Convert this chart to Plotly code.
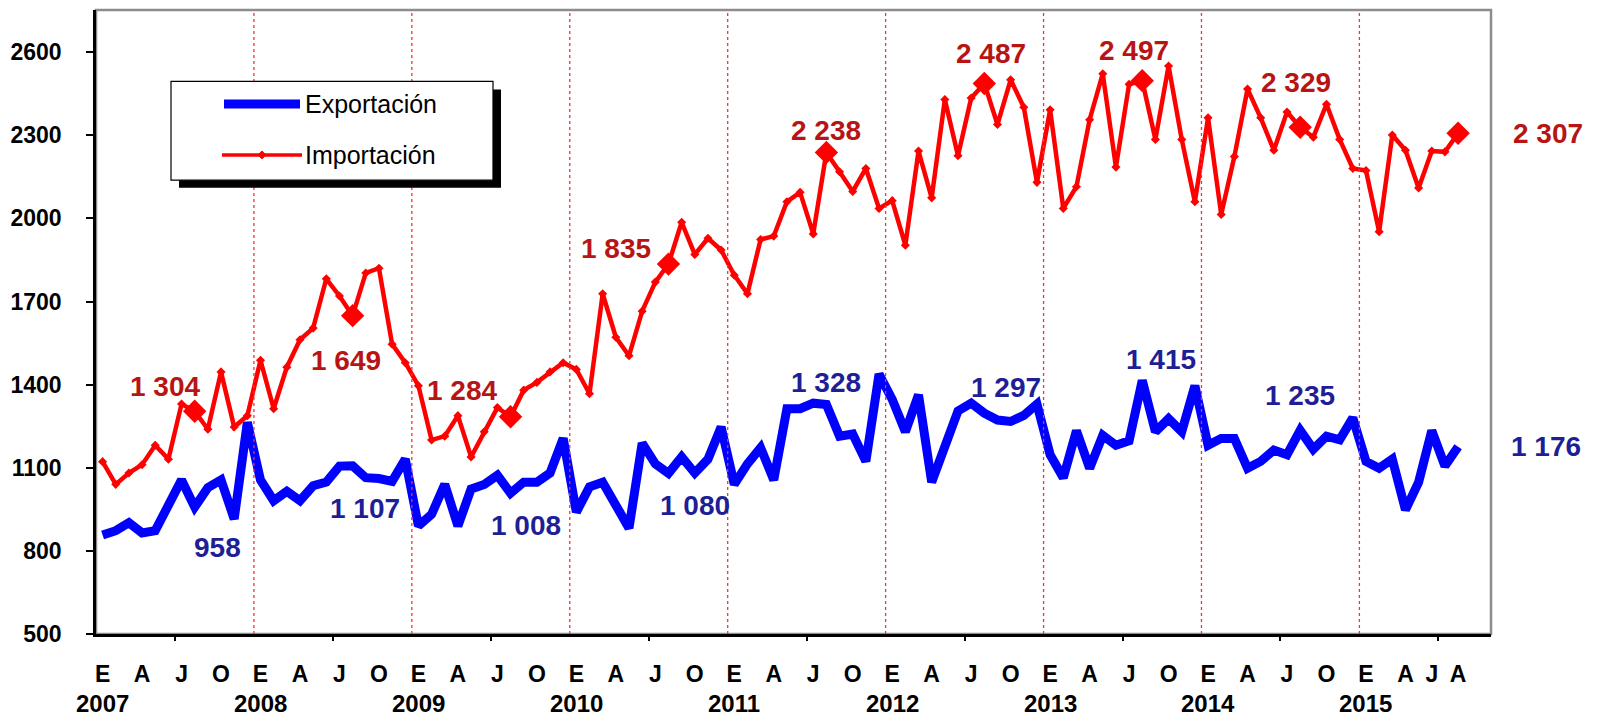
import plotly.graph_objects as go

# ---------------- data ----------------
years = [2007, 2008, 2009, 2010, 2011, 2012, 2013, 2014, 2015]
month_letters = ["E", "A", "J", "O"]
month_offsets = [0, 3, 6, 9]
last_year_letters = ["E", "A", "J", "A"]
last_year_offsets = [0, 3, 5, 7]

exportacion = [
    857, 873, 902, 865, 873, 968, 1056, 958, 1028, 1056, 915, 1264,
    1056, 981, 1015, 981, 1035, 1048, 1106, 1107, 1064, 1061, 1051, 1131,
    890, 932, 1040, 890, 1023, 1040, 1073, 1008, 1048, 1048, 1081, 1206,
    940, 1031, 1048, 965, 882, 1189, 1114, 1080, 1139, 1081, 1131, 1247,
    1040, 1114, 1172, 1056, 1313, 1313, 1333, 1328, 1214, 1222, 1123, 1438,
    1347, 1230, 1363, 1048, 1181, 1305, 1333, 1297, 1272, 1267, 1289, 1330,
    1147, 1064, 1234, 1098, 1217, 1181, 1197, 1415, 1230, 1277, 1230, 1396,
    1181, 1206, 1206, 1098, 1123, 1164, 1147, 1235, 1167, 1214, 1201, 1280,
    1123, 1098, 1131, 948, 1048, 1234, 1106, 1176,
]
importacion = [
    1122, 1040, 1081, 1111, 1181, 1131, 1330, 1304, 1239, 1446, 1247, 1288,
    1488, 1313, 1463, 1562, 1604, 1782, 1720, 1649, 1803, 1820, 1546, 1479,
    1396, 1200, 1214, 1288, 1139, 1230, 1317, 1284, 1380, 1408, 1446, 1479,
    1455, 1367, 1728, 1571, 1504, 1665, 1770, 1835, 1986, 1870, 1928, 1886,
    1795, 1728, 1924, 1936, 2060, 2094, 1944, 2238, 2168, 2097, 2180, 2036,
    2064, 1903, 2243, 2074, 2429, 2226, 2434, 2487, 2339, 2500, 2401, 2130,
    2392, 2036, 2114, 2356, 2522, 2185, 2484, 2497, 2285, 2550, 2285, 2060,
    2363, 2014, 2223, 2467, 2363, 2246, 2384, 2329, 2293, 2412, 2285, 2180,
    2173, 1952, 2301, 2246, 2110, 2243, 2240, 2307,
]
highlight_month = 7  # agosto de cada año

# label offsets in pixels (dx, dy) for the August labels
imp_label_shift = [(-30, 25), (-7, -45), (-49, 26), (-52, 16), (0, 22), (7, 30), (-8, 30), (-4, 45), (90, 0)]
exp_label_shift = [(23, -40), (12, -43), (15, -32), (27, -32), (0, 22), (22, 26), (19, 21), (0, 35), (88, 0)]

Y_TICKS = list(range(500, 2601, 300))

# ---------------- build ----------------
n = len(importacion)
xs = list(range(n))
hl_x = [12 * i + highlight_month for i in range(len(years)) if 12 * i + highlight_month < n]

FONT = "Arial, Liberation Sans, sans-serif"
RED = "#FF0000"
BLUE = "#0000FF"
RED_LBL = "#B81414"
BLUE_LBL = "#1E1E96"

fig = go.Figure()
fig.add_trace(go.Scatter(
    x=xs, y=exportacion, name="Exportación", mode="lines",
    line=dict(color=BLUE, width=9), showlegend=False,
))
fig.add_trace(go.Scatter(
    x=xs, y=importacion, name="Importación", mode="lines+markers",
    line=dict(color=RED, width=4.5), marker=dict(symbol="diamond", size=7, color=RED),
    showlegend=False,
))
fig.add_trace(go.Scatter(
    x=hl_x, y=[importacion[i] for i in hl_x], mode="markers",
    marker=dict(symbol="diamond", size=18, color=RED), showlegend=False, hoverinfo="skip",
))
# invisible trace for tick-mark axis
fig.add_trace(go.Scatter(x=[0], y=[None], xaxis="x2", showlegend=False, hoverinfo="skip"))

# tick labels
tickvals, ticktext = [], []
for i, yr in enumerate(years):
    if i < len(years) - 1:
        offs, lets = month_offsets, month_letters
    else:
        offs, lets = last_year_offsets, last_year_letters
    for o, l in zip(offs, lets):
        tickvals.append(12 * i + o)
        ticktext.append(l)

annotations = []
for i, yr in enumerate(years):
    annotations.append(dict(
        x=12 * i, y=0, xref="x", yref="paper", yanchor="bottom", yshift=-85,
        text=str(yr), showarrow=False,
        font=dict(family=FONT, size=24, color="black", weight="bold"),
    ))

def fmt(v):
    return f"{v:,}".replace(",", " ")

for k, xi in enumerate(hl_x):
    dx, dy = imp_label_shift[k]
    annotations.append(dict(
        x=xi, y=importacion[xi], xref="x", yref="y", text=fmt(importacion[xi]),
        showarrow=False, xshift=dx, yshift=dy,
        font=dict(family=FONT, size=28, color=RED_LBL, weight="bold"),
    ))
    dx, dy = exp_label_shift[k]
    annotations.append(dict(
        x=xi, y=exportacion[xi], xref="x", yref="y", text=fmt(exportacion[xi]),
        showarrow=False, xshift=dx, yshift=dy,
        font=dict(family=FONT, size=28, color=BLUE_LBL, weight="bold"),
    ))

# legend (drawn manually)
W, H = 1395.0, 624.5
def px(x):
    return (x - 96) / W
def py(y):
    return (634.5 - y) / H

shapes = []
# plot frame (grey top/right)
shapes.append(dict(type="rect", xref="paper", yref="paper", x0=0, x1=1, y0=0, y1=1,
                   line=dict(color="#8C8C8C", width=2.5), layer="below"))
# year separators
for i in range(1, len(years)):
    shapes.append(dict(type="line", xref="x", yref="paper", x0=12 * i - 0.5, x1=12 * i - 0.5,
                       y0=0, y1=1, line=dict(color="#FF3030", width=1.3, dash="dot"), layer="above"))
# legend shadow + box
shapes.append(dict(type="rect", xref="paper", yref="paper", x0=px(179), x1=px(501), y0=py(188), y1=py(89.5),
                   fillcolor="black", line=dict(color="black", width=0), layer="above"))
shapes.append(dict(type="rect", xref="paper", yref="paper", x0=px(171), x1=px(493), y0=py(180.3), y1=py(81.5),
                   fillcolor="white", line=dict(color="black", width=1.2), layer="above"))
shapes.append(dict(type="line", xref="paper", yref="paper", x0=px(224), x1=px(300), y0=py(104), y1=py(104),
                   line=dict(color=BLUE, width=9), layer="above"))
shapes.append(dict(type="line", xref="paper", yref="paper", x0=px(222), x1=px(302), y0=py(155), y1=py(155),
                   line=dict(color=RED, width=3.5), layer="above"))
shapes.append(dict(type="path", xref="paper", yref="paper",
                   path=f"M {px(258)},{py(155)} L {px(262)},{py(151)} L {px(266)},{py(155)} L {px(262)},{py(159)} Z",
                   fillcolor=RED, line=dict(color=RED, width=1), layer="above"))
annotations.append(dict(x=px(303), y=py(104), xref="paper", yref="paper", xanchor="left", yanchor="middle",
                        text="Exportación", showarrow=False, font=dict(family=FONT, size=25, color="black")))
annotations.append(dict(x=px(303), y=py(155), xref="paper", yref="paper", xanchor="left", yanchor="middle",
                        text="Importación", showarrow=False, font=dict(family=FONT, size=25, color="black")))

fig.update_layout(
    width=1597, height=721,
    margin=dict(l=96, r=106, t=10, b=86.5),
    paper_bgcolor="white", plot_bgcolor="white",
    showlegend=False,
    xaxis=dict(
        range=[-0.5, 105.5], tickmode="array", tickvals=tickvals, ticktext=ticktext,
        ticks="", showgrid=False, zeroline=False,
        showline=True, linecolor="black", linewidth=2.5,
        tickfont=dict(family=FONT, size=23, color="black", weight="bold"),
        ticklabelstandoff=18,
    ),
    xaxis2=dict(
        range=[-0.5, 105.5], overlaying="x", anchor="y", side="bottom",
        tickmode="array", tickvals=[12 * i + 5.5 for i in range(len(years))],
        ticks="outside", ticklen=6, tickwidth=1.5, tickcolor="black",
        showticklabels=False, showgrid=False, zeroline=False, showline=False,
    ),
    yaxis=dict(
        range=[500, 2752], tickmode="array", tickvals=Y_TICKS,
        ticks="outside", ticklen=7, tickwidth=1.5, tickcolor="black",
        showgrid=False, zeroline=False,
        showline=True, linecolor="black", linewidth=2.5,
        tickfont=dict(family=FONT, size=23, color="black", weight="bold"),
        ticklabelstandoff=20,
    ),
    shapes=shapes,
    annotations=annotations,
)

fig.write_html(
    "out.html",
    config={"displayModeBar": False},
    post_script="document.body.style.margin='0px';document.body.style.overflow='hidden';",
)
